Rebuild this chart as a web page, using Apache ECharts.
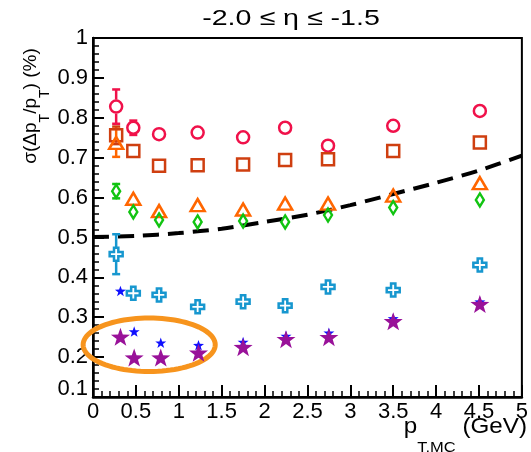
<!DOCTYPE html>
<html>
<head>
<meta charset="utf-8">
<script src="https://cdn.jsdelivr.net/npm/echarts@6/dist/echarts.min.js"></script>
<style>
  html, body { margin: 0; padding: 0; background: #fff; }
  #chart { width: 531px; height: 452px; }
</style>
</head>
<body>
<div id="chart"></div>
<script>
// pT bin positions (GeV) for the open-marker sets and for the star sets
const ptOpen = [0.27, 0.47, 0.77, 1.22, 1.75, 2.24, 2.74, 3.50, 4.51];
const ptStar = [0.32, 0.48, 0.79, 1.23, 1.75, 2.25, 2.75, 3.50, 4.51];

// momentum resolution sigma(dpT/pT) in %, with statistical errors
const resCircle   = [0.828, 0.775, 0.759, 0.763, 0.751, 0.775, 0.730, 0.780, 0.817];
const errCircle   = [0.043, 0.018, 0, 0, 0, 0, 0, 0, 0];
const resSquare   = [0.756, 0.717, 0.680, 0.681, 0.683, 0.694, 0.696, 0.717, 0.738];
const errSquare   = [0.022, 0, 0, 0, 0, 0, 0, 0, 0];
const resTriangle = [0.737, 0.597, 0.566, 0.581, 0.570, 0.585, 0.585, 0.605, 0.636];
const errTriangle = [0.035, 0, 0, 0, 0, 0, 0, 0, 0];
const resDiamond  = [0.616, 0.564, 0.544, 0.539, 0.541, 0.539, 0.556, 0.575, 0.594];
const errDiamond  = [0.018, 0, 0, 0, 0, 0, 0, 0, 0];
const resCross    = [0.458, 0.360, 0.356, 0.326, 0.339, 0.329, 0.376, 0.368, 0.431];
const errCross    = [0.050, 0, 0, 0, 0, 0, 0, 0, 0];
const resStarSm   = [0.366, 0.264, 0.236, 0.230, 0.238, 0.253, 0.261, 0.297, 0.339];
const errStarSm   = [0.008, 0, 0, 0, 0, 0, 0, 0, 0];
const resStarLg   = [0.251, 0.199, 0.199, 0.211, 0.225, 0.245, 0.250, 0.290, 0.333];

// requirement curve (dashed)
const reqPt  = [0, 0.5, 1.0, 1.5, 2.0, 2.5, 3.0, 3.5, 4.0, 4.5, 5.0];
const reqRes = [0.501, 0.504, 0.511, 0.522, 0.539, 0.557, 0.581, 0.609, 0.637, 0.668, 0.705];

// highlighted low-pT star region
const focus = { cx: 0.655, cy: 0.231, rx: 0.77, ry: 0.067 };

const FONT = '"Liberation Sans", Arial, sans-serif';

const STAR = 'path://M0,-10L2.35,-3.24L9.51,-3.09L3.8,1.24L5.88,8.09L0,4L-5.88,8.09L-3.8,1.24L-9.51,-3.09L-2.35,-3.24Z';
const CROSS = 'path://M-1,-3H1V-1H3V1H1V3H-1V1H-3V-1H-1Z';

function pairs(xs, ys) { return xs.map((x, i) => [x, ys[i]]); }

function markers(xs, ys, symbol, size, color, filled, z) {
  return {
    type: 'scatter',
    data: pairs(xs, ys),
    symbol: symbol,
    symbolSize: size,
    symbolKeepAspect: true,
    silent: true,
    z: z || 5,
    itemStyle: {
      color: filled ? color : 'rgba(0,0,0,0)',
      borderColor: color,
      borderWidth: filled ? 0 : 2.5,
      opacity: 1
    },
    emphasis: { disabled: true }
  };
}

function errorBars(xs, ys, errs, color, gap) {
  return {
    type: 'custom',
    silent: true,
    z: 4,
    encode: { x: 0, y: 1 },
    data: xs.map((x, i) => [x, ys[i], errs[i]]).filter(d => d[2] > 0),
    renderItem: function (params, api) {
      const x = api.value(0), y = api.value(1), e = api.value(2);
      const c = api.coord([x, y]);
      const hi = api.coord([x, y + e]);
      const lo = api.coord([x, y - e]);
      const st = { stroke: color, lineWidth: 2.5 };
      const kids = [];
      if (c[1] - gap > hi[1]) {
        kids.push({ type: 'line', shape: { x1: c[0], y1: c[1] - gap, x2: c[0], y2: hi[1] }, style: st });
        kids.push({ type: 'line', shape: { x1: c[0] - 4, y1: hi[1], x2: c[0] + 4, y2: hi[1] }, style: st });
      }
      if (lo[1] > c[1] + gap) {
        kids.push({ type: 'line', shape: { x1: c[0], y1: c[1] + gap, x2: c[0], y2: lo[1] }, style: st });
        kids.push({ type: 'line', shape: { x1: c[0] - 4, y1: lo[1], x2: c[0] + 4, y2: lo[1] }, style: st });
      }
      return { type: 'group', children: kids };
    }
  };
}

const ellipseSeries = {
  type: 'custom',
  silent: true,
  z: 3,
  data: [[focus.cx, focus.cy]],
  encode: { x: 0, y: 1 },
  renderItem: function (params, api) {
    const pts = [];
    for (let k = 0; k < 96; k++) {
      const t = 2 * Math.PI * k / 96;
      pts.push(api.coord([focus.cx + focus.rx * Math.cos(t), focus.cy + focus.ry * Math.sin(t)]));
    }
    return { type: 'polygon', shape: { points: pts }, style: { fill: 'none', stroke: '#f7941d', lineWidth: 5 } };
  }
};

const chart = echarts.init(document.getElementById('chart'), null, { renderer: 'canvas' });

const axisText = { color: '#000', fontSize: 22, fontFamily: FONT };

chart.setOption({
  animation: false,
  backgroundColor: '#fff',
  grid: { left: 93, right: 9, top: 38, bottom: 55, show: true, borderColor: '#000', borderWidth: 2, backgroundColor: 'transparent' },
  xAxis: {
    type: 'value', min: 0, max: 5, interval: 0.5,
    axisLine: { show: true, onZero: false, lineStyle: { color: '#000', width: 2.5 } },
    axisTick: { show: true, inside: true, length: 12, lineStyle: { color: '#000', width: 2 } },
    minorTick: { show: true, splitNumber: 5, length: 6, lineStyle: { color: '#000', width: 1.5 } },
    splitLine: { show: false },
    axisLabel: Object.assign({ margin: 4, formatter: v => String(+v.toFixed(1)) }, axisText)
  },
  yAxis: {
    type: 'value', min: 0.1, max: 1, interval: 0.1,
    axisLine: { show: true, onZero: false, lineStyle: { color: '#000', width: 2.5 } },
    axisTick: { show: true, inside: true, length: 11, lineStyle: { color: '#000', width: 2 } },
    minorTick: { show: true, splitNumber: 5, length: 6, lineStyle: { color: '#000', width: 1.5 } },
    splitLine: { show: false },
    axisLabel: Object.assign({
      margin: 5,
      formatter: function (v) {
        if (Math.abs(v - 1) < 1e-6) return '1';
        if (Math.abs(v - 0.1) < 1e-6) return '{lo|0.1}';
        return v.toFixed(1);
      },
      rich: { lo: { fontSize: 22, fontFamily: FONT, color: '#000', padding: [0, 0, 16, 0] } }
    }, axisText)
  },
  graphic: [
    {
      type: 'text', x: 291, y: 19, scaleX: 1.3,
      style: { text: '-2.0 ≤ η ≤ -1.5', fontSize: 22, fontFamily: FONT, fill: '#000', align: 'center', verticalAlign: 'middle' }
    },
    {
      type: 'text', x: 21, y: 106, rotation: Math.PI / 2,
      style: {
        text: '{m|σ(Δp}{s|T}{m|/p}{s|T}{m|) (%)}',
        align: 'center', verticalAlign: 'top',
        rich: {
          m: { fontSize: 19, fontFamily: FONT, fill: '#000', color: '#000', lineHeight: 22, verticalAlign: 'top' },
          s: { fontSize: 14, fontFamily: FONT, fill: '#000', color: '#000', lineHeight: 48 }
        }
      }
    },
    {
      type: 'text', x: 527, y: 416, scaleX: 1.1,
      style: {
        text: '{m|p}{s|T,MC}{m| (GeV)}',
        align: 'right', verticalAlign: 'top',
        rich: {
          m: { fontSize: 22, fontFamily: FONT, fill: '#000', color: '#000', lineHeight: 24, verticalAlign: 'top' },
          s: { fontSize: 15, fontFamily: FONT, fill: '#000', color: '#000', lineHeight: 64 }
        }
      }
    }
  ],
  series: [
    ellipseSeries,
    {
      type: 'line', data: pairs(reqPt, reqRes), smooth: 0.3, showSymbol: false, silent: true, z: 3,
      lineStyle: { color: '#000', width: 4, type: [16, 9] }
    },
    errorBars(ptOpen, resCircle, errCircle, '#f0114a', 7),
    errorBars(ptOpen, resSquare, errSquare, '#cf3f10', 7),
    errorBars(ptOpen, resTriangle, errTriangle, '#ff6600', 6),
    errorBars(ptOpen, resDiamond, errDiamond, '#11c411', 7),
    errorBars(ptOpen, resCross, errCross, '#1797cf', 7),
    errorBars(ptStar, resStarSm, errStarSm, '#1010ff', 4),
    markers(ptOpen, resCircle, 'circle', 12, '#f0114a', false),
    markers(ptOpen, resSquare, 'rect', 12, '#cf3f10', false),
    markers(ptOpen, resTriangle, 'triangle', [14, 12], '#ff6600', false),
    markers(ptOpen, resDiamond, 'diamond', [8, 13], '#11c411', false),
    markers(ptOpen, resCross, CROSS, 13, '#1797cf', false),
    markers(ptStar, resStarSm, STAR, 11, '#1010ff', true, 5),
    markers(ptStar, resStarLg, STAR, 19, '#991199', true, 6)
  ]
});
</script>
</body>
</html>
